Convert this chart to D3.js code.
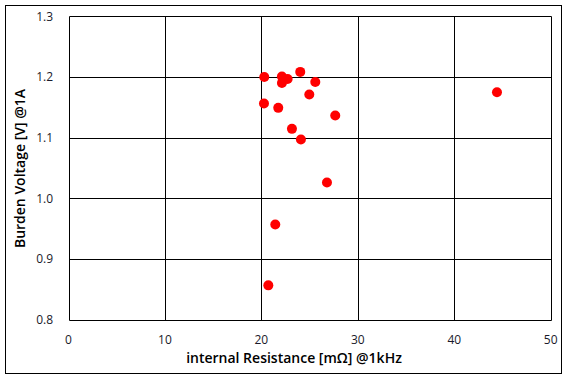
<!DOCTYPE html>
<html><head><meta charset="utf-8">
<script src="https://cdn.jsdelivr.net/npm/d3@7"></script>
<style>body{margin:0;background:#fff}svg{display:block}</style>
</head><body>
<script>
const resistance = [20.3, 22.13, 22.72, 22.13, 24.03, 25.59, 24.97, 20.27, 21.75, 27.66, 23.17, 24.1, 26.8, 21.44, 20.72, 44.43];
const voltage    = [1.200, 1.2007, 1.1967, 1.190, 1.2083, 1.1918, 1.171, 1.1562, 1.149, 1.1364, 1.1144, 1.0969, 1.026, 0.9568, 0.8563, 1.1748];
const xTicks = [0, 10, 20, 30, 40, 50];
const yTicks = [0.8, 0.9, 1.0, 1.1, 1.2, 1.3];
const xTitle = "internal Resistance [mΩ] @1kHz";
const yTitle = "Burden Voltage [V] @1A";

const W = 569, H = 380;
const svg = d3.select("body").append("svg").attr("width", W).attr("height", H);
svg.append("rect").attr("x", 5.5).attr("y", 5.5).attr("width", 556).attr("height", 368)
  .attr("fill", "#fff").attr("stroke", "#000").attr("stroke-width", 1);

const x = d3.scaleLinear().domain([0, 50]).range([68.5, 550.7]);
const y = d3.scaleLinear().domain([0.8, 1.3]).range([319.5, 16.3]);

const g = svg.append("g");
g.selectAll("line.vx").data(xTicks).join("line")
  .attr("x1", d => Math.round(x(d)) + 0.5).attr("x2", d => Math.round(x(d)) + 0.5)
  .attr("y1", Math.round(y(0.8)) + 0.5).attr("y2", Math.round(y(1.3)) + 0.5).attr("stroke", "#000").attr("stroke-width", 1);
g.selectAll("line.hy").data(yTicks).join("line")
  .attr("y1", d => Math.round(y(d)) + 0.5).attr("y2", d => Math.round(y(d)) + 0.5)
  .attr("x1", Math.round(x(0)) + 0.5).attr("x2", Math.round(x(50)) + 0.5).attr("stroke", "#000").attr("stroke-width", 1);

svg.selectAll("text.xt").data(xTicks).join("text")
  .attr("x", d => x(d)).attr("y", 343.5).attr("text-anchor", "middle")
  .attr("font-family", "Open Sans, sans-serif").attr("font-size", 12).attr("fill", "#1a1a2a")
  .text(d => d);
svg.selectAll("text.yt").data(yTicks).join("text")
  .attr("x", 53).attr("y", d => y(d) + 4.5).attr("text-anchor", "end")
  .attr("font-family", "Open Sans, sans-serif").attr("font-size", 12).attr("fill", "#1a1a2a")
  .text(d => d.toFixed(1));

svg.append("text").attr("x", 294).attr("y", 363).attr("text-anchor", "middle")
  .attr("font-family", "Open Sans, sans-serif").attr("font-size", 14).attr("font-weight", 600)
  .attr("fill", "#000").text(xTitle);
svg.append("text").attr("transform", "translate(25,168.5) rotate(-90)").attr("text-anchor", "middle")
  .attr("font-family", "Open Sans, sans-serif").attr("font-size", 14).attr("font-weight", 600)
  .attr("fill", "#000").text(yTitle);

svg.selectAll("circle").data(resistance).join("circle")
  .attr("cx", (d, i) => x(d)).attr("cy", (d, i) => y(voltage[i])).attr("r", 5)
  .attr("fill", "#ff0000");
</script>
</body></html>
